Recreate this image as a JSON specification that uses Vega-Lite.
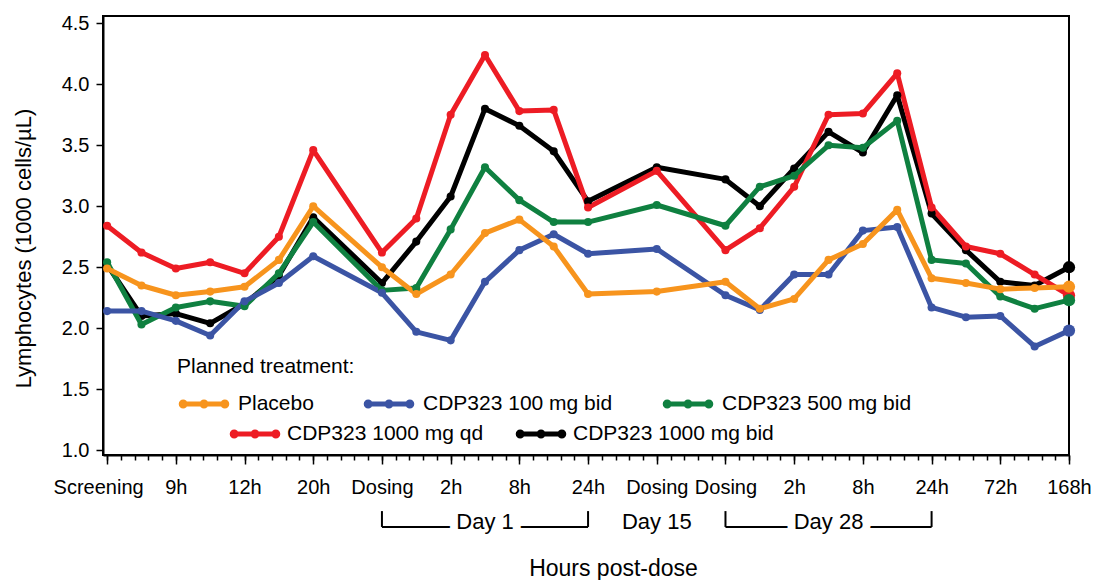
{
  "$schema": "https://vega.github.io/schema/vega-lite/v6.json",
  "width": 966,
  "height": 439,
  "autosize": {"type": "none"},
  "padding": {"left": 103, "top": 16, "right": 25, "bottom": 125},
  "background": "white",
  "config": {
    "view": {"stroke": "black", "strokeWidth": 2},
    "font": "Liberation Sans",
    "axis": {"domainColor": "black", "domainWidth": 2, "tickColor": "black", "tickWidth": 1.5, "labelColor": "black", "titleColor": "black", "labelFont": "Liberation Sans", "titleFont": "Liberation Sans", "titleFontWeight": "normal", "grid": false, "labelOverlap": false},
    "legend": {"labelFont": "Liberation Sans", "titleFont": "Liberation Sans", "labelColor": "black", "titleColor": "black", "labelLimit": 400}
  },
  "datasets": {
    "lymph": [
      {"time":0,"treatment":"CDP323 1000 mg bid","value":2.52},{"time":1,"treatment":"CDP323 1000 mg bid","value":2.10},{"time":2,"treatment":"CDP323 1000 mg bid","value":2.12},{"time":3,"treatment":"CDP323 1000 mg bid","value":2.04},{"time":4,"treatment":"CDP323 1000 mg bid","value":2.20},{"time":5,"treatment":"CDP323 1000 mg bid","value":2.43},{"time":6,"treatment":"CDP323 1000 mg bid","value":2.91},{"time":8,"treatment":"CDP323 1000 mg bid","value":2.37},{"time":9,"treatment":"CDP323 1000 mg bid","value":2.71},{"time":10,"treatment":"CDP323 1000 mg bid","value":3.08},{"time":11,"treatment":"CDP323 1000 mg bid","value":3.80},{"time":12,"treatment":"CDP323 1000 mg bid","value":3.66},{"time":13,"treatment":"CDP323 1000 mg bid","value":3.45},{"time":14,"treatment":"CDP323 1000 mg bid","value":3.04},{"time":16,"treatment":"CDP323 1000 mg bid","value":3.32},{"time":18,"treatment":"CDP323 1000 mg bid","value":3.22},{"time":19,"treatment":"CDP323 1000 mg bid","value":3.00},{"time":20,"treatment":"CDP323 1000 mg bid","value":3.31},{"time":21,"treatment":"CDP323 1000 mg bid","value":3.61},{"time":22,"treatment":"CDP323 1000 mg bid","value":3.44},{"time":23,"treatment":"CDP323 1000 mg bid","value":3.91},{"time":24,"treatment":"CDP323 1000 mg bid","value":2.94},{"time":25,"treatment":"CDP323 1000 mg bid","value":2.64},{"time":26,"treatment":"CDP323 1000 mg bid","value":2.38},{"time":27,"treatment":"CDP323 1000 mg bid","value":2.35},{"time":28,"treatment":"CDP323 1000 mg bid","value":2.50},
      {"time":0,"treatment":"CDP323 1000 mg qd","value":2.84},{"time":1,"treatment":"CDP323 1000 mg qd","value":2.62},{"time":2,"treatment":"CDP323 1000 mg qd","value":2.49},{"time":3,"treatment":"CDP323 1000 mg qd","value":2.54},{"time":4,"treatment":"CDP323 1000 mg qd","value":2.45},{"time":5,"treatment":"CDP323 1000 mg qd","value":2.75},{"time":6,"treatment":"CDP323 1000 mg qd","value":3.46},{"time":8,"treatment":"CDP323 1000 mg qd","value":2.62},{"time":9,"treatment":"CDP323 1000 mg qd","value":2.90},{"time":10,"treatment":"CDP323 1000 mg qd","value":3.75},{"time":11,"treatment":"CDP323 1000 mg qd","value":4.24},{"time":12,"treatment":"CDP323 1000 mg qd","value":3.78},{"time":13,"treatment":"CDP323 1000 mg qd","value":3.79},{"time":14,"treatment":"CDP323 1000 mg qd","value":2.99},{"time":16,"treatment":"CDP323 1000 mg qd","value":3.29},{"time":18,"treatment":"CDP323 1000 mg qd","value":2.64},{"time":19,"treatment":"CDP323 1000 mg qd","value":2.82},{"time":20,"treatment":"CDP323 1000 mg qd","value":3.16},{"time":21,"treatment":"CDP323 1000 mg qd","value":3.75},{"time":22,"treatment":"CDP323 1000 mg qd","value":3.76},{"time":23,"treatment":"CDP323 1000 mg qd","value":4.09},{"time":24,"treatment":"CDP323 1000 mg qd","value":2.99},{"time":25,"treatment":"CDP323 1000 mg qd","value":2.67},{"time":26,"treatment":"CDP323 1000 mg qd","value":2.61},{"time":27,"treatment":"CDP323 1000 mg qd","value":2.44},{"time":28,"treatment":"CDP323 1000 mg qd","value":2.27},
      {"time":0,"treatment":"CDP323 500 mg bid","value":2.54},{"time":1,"treatment":"CDP323 500 mg bid","value":2.03},{"time":2,"treatment":"CDP323 500 mg bid","value":2.17},{"time":3,"treatment":"CDP323 500 mg bid","value":2.22},{"time":4,"treatment":"CDP323 500 mg bid","value":2.18},{"time":5,"treatment":"CDP323 500 mg bid","value":2.45},{"time":6,"treatment":"CDP323 500 mg bid","value":2.87},{"time":8,"treatment":"CDP323 500 mg bid","value":2.31},{"time":9,"treatment":"CDP323 500 mg bid","value":2.33},{"time":10,"treatment":"CDP323 500 mg bid","value":2.81},{"time":11,"treatment":"CDP323 500 mg bid","value":3.32},{"time":12,"treatment":"CDP323 500 mg bid","value":3.05},{"time":13,"treatment":"CDP323 500 mg bid","value":2.87},{"time":14,"treatment":"CDP323 500 mg bid","value":2.87},{"time":16,"treatment":"CDP323 500 mg bid","value":3.01},{"time":18,"treatment":"CDP323 500 mg bid","value":2.84},{"time":19,"treatment":"CDP323 500 mg bid","value":3.16},{"time":20,"treatment":"CDP323 500 mg bid","value":3.25},{"time":21,"treatment":"CDP323 500 mg bid","value":3.50},{"time":22,"treatment":"CDP323 500 mg bid","value":3.48},{"time":23,"treatment":"CDP323 500 mg bid","value":3.70},{"time":24,"treatment":"CDP323 500 mg bid","value":2.56},{"time":25,"treatment":"CDP323 500 mg bid","value":2.53},{"time":26,"treatment":"CDP323 500 mg bid","value":2.26},{"time":27,"treatment":"CDP323 500 mg bid","value":2.16},{"time":28,"treatment":"CDP323 500 mg bid","value":2.23},
      {"time":0,"treatment":"CDP323 100 mg bid","value":2.14},{"time":1,"treatment":"CDP323 100 mg bid","value":2.14},{"time":2,"treatment":"CDP323 100 mg bid","value":2.06},{"time":3,"treatment":"CDP323 100 mg bid","value":1.94},{"time":4,"treatment":"CDP323 100 mg bid","value":2.22},{"time":5,"treatment":"CDP323 100 mg bid","value":2.37},{"time":6,"treatment":"CDP323 100 mg bid","value":2.59},{"time":8,"treatment":"CDP323 100 mg bid","value":2.29},{"time":9,"treatment":"CDP323 100 mg bid","value":1.97},{"time":10,"treatment":"CDP323 100 mg bid","value":1.90},{"time":11,"treatment":"CDP323 100 mg bid","value":2.38},{"time":12,"treatment":"CDP323 100 mg bid","value":2.64},{"time":13,"treatment":"CDP323 100 mg bid","value":2.77},{"time":14,"treatment":"CDP323 100 mg bid","value":2.61},{"time":16,"treatment":"CDP323 100 mg bid","value":2.65},{"time":18,"treatment":"CDP323 100 mg bid","value":2.27},{"time":19,"treatment":"CDP323 100 mg bid","value":2.15},{"time":20,"treatment":"CDP323 100 mg bid","value":2.44},{"time":21,"treatment":"CDP323 100 mg bid","value":2.44},{"time":22,"treatment":"CDP323 100 mg bid","value":2.80},{"time":23,"treatment":"CDP323 100 mg bid","value":2.83},{"time":24,"treatment":"CDP323 100 mg bid","value":2.17},{"time":25,"treatment":"CDP323 100 mg bid","value":2.09},{"time":26,"treatment":"CDP323 100 mg bid","value":2.10},{"time":27,"treatment":"CDP323 100 mg bid","value":1.85},{"time":28,"treatment":"CDP323 100 mg bid","value":1.98},
      {"time":0,"treatment":"Placebo","value":2.49},{"time":1,"treatment":"Placebo","value":2.35},{"time":2,"treatment":"Placebo","value":2.27},{"time":3,"treatment":"Placebo","value":2.30},{"time":4,"treatment":"Placebo","value":2.34},{"time":5,"treatment":"Placebo","value":2.56},{"time":6,"treatment":"Placebo","value":3.00},{"time":8,"treatment":"Placebo","value":2.50},{"time":9,"treatment":"Placebo","value":2.28},{"time":10,"treatment":"Placebo","value":2.44},{"time":11,"treatment":"Placebo","value":2.78},{"time":12,"treatment":"Placebo","value":2.89},{"time":13,"treatment":"Placebo","value":2.67},{"time":14,"treatment":"Placebo","value":2.28},{"time":16,"treatment":"Placebo","value":2.30},{"time":18,"treatment":"Placebo","value":2.38},{"time":19,"treatment":"Placebo","value":2.16},{"time":20,"treatment":"Placebo","value":2.24},{"time":21,"treatment":"Placebo","value":2.56},{"time":22,"treatment":"Placebo","value":2.69},{"time":23,"treatment":"Placebo","value":2.97},{"time":24,"treatment":"Placebo","value":2.41},{"time":25,"treatment":"Placebo","value":2.37},{"time":26,"treatment":"Placebo","value":2.32},{"time":27,"treatment":"Placebo","value":2.33},{"time":28,"treatment":"Placebo","value":2.34}
    ],
    "periods": [
      {"period": "Day 1", "from": 8, "to": 14, "mid": 11},
      {"period": "Day 15", "mid": 16},
      {"period": "Day 28", "from": 18, "to": 24, "mid": 21}
    ]
  },
  "layer": [
    {
      "data": {"name": "lymph"},
      "transform": [{"filter": {"field": "treatment", "oneOf": ["CDP323 1000 mg qd", "CDP323 1000 mg bid"]}}],
      "mark": {"type": "line", "strokeWidth": 5, "strokeJoin": "round", "point": {"filled": true, "size": 65}},
      "encoding": {
        "x": {"field": "time", "type": "quantitative", "scale": {"domain": [-0.12, 28], "nice": false, "zero": false},
          "axis": {"orient": "bottom", "title": "Hours post-dose", "titleFontSize": 23, "titleX": 510, "titleY": 120, "titleBaseline": "alphabetic",
            "values": [0,2,4,6,8,10,12,14,16,18,20,22,24,26,28],
            "labelExpr": "['Screening','9h','12h','20h','Dosing','2h','8h','24h','Dosing','Dosing','2h','8h','24h','72h','168h'][datum.value / 2]",
            "labelOffset": {"condition": {"test": "datum.value === 0", "value": -9}, "value": 0},
            "tickSize": 9, "labelFontSize": 20, "labelPadding": 13, "labelOverlap": false, "labelFlush": false}},
        "y": {"field": "value", "type": "quantitative", "scale": {"domain": [0.96, 4.56], "nice": false, "zero": false},
          "axis": {"title": "Lymphocytes (1000 cells/µL)", "titleFontSize": 22, "titleX": -80, "titleY": 232, "titleBaseline": "middle", "titleAlign": "center",
            "values": [1,1.25,1.5,1.75,2,2.25,2.5,2.75,3,3.25,3.5,3.75,4,4.25,4.5],
            "labelExpr": "(datum.value * 2) % 1 === 0 ? format(datum.value, '.1f') : ''",
            "tickSize": {"condition": {"test": "(datum.value * 2) % 1 === 0", "value": 7}, "value": 4},
            "labelFontSize": 20, "labelPadding": 7, "labelOverlap": false}},
        "color": {"field": "treatment", "type": "nominal",
          "scale": {"domain": ["CDP323 1000 mg qd", "CDP323 1000 mg bid"], "range": ["#ED1C24", "#000000"]},
          "legend": {"orient": "none", "legendX": 125, "legendY": 391, "direction": "horizontal", "title": null, "padding": 0,
            "labelFontSize": 21, "labelOffset": 5, "columnPadding": 22, "labelLimit": 400,
            "symbolType": "M-1,0L1,0M-0.93,0a0.08,0.08 0 1,0 0.16,0a0.08,0.08 0 1,0 -0.16,0M-0.08,0a0.08,0.08 0 1,0 0.16,0a0.08,0.08 0 1,0 -0.16,0M0.77,0a0.08,0.08 0 1,0 0.16,0a0.08,0.08 0 1,0 -0.16,0",
            "symbolSize": 2400, "symbolStrokeWidth": 5}}
      }
    },
    {
      "data": {"name": "lymph"},
      "transform": [{"filter": {"field": "treatment", "oneOf": ["CDP323 500 mg bid", "CDP323 100 mg bid", "Placebo"]}}],
      "mark": {"type": "line", "strokeWidth": 5, "strokeJoin": "round", "point": {"filled": true, "size": 65}},
      "encoding": {
        "x": {"field": "time", "type": "quantitative", "axis": null},
        "y": {"field": "value", "type": "quantitative"},
        "color": {"field": "treatment", "type": "nominal",
          "scale": {"domain": ["Placebo", "CDP323 100 mg bid", "CDP323 500 mg bid"], "range": ["#F7941D", "#3B54A4", "#0F8040"]},
          "legend": {"orient": "none", "legendX": 74, "legendY": 340, "direction": "horizontal", "title": "Planned treatment:", "titleFontSize": 21, "titleFontWeight": "normal", "titlePadding": 0, "padding": 0,
            "labelFontSize": 21, "labelOffset": 7, "columnPadding": 40, "labelLimit": 400,
            "symbolType": "M-1,0L1,0M-0.93,0a0.08,0.08 0 1,0 0.16,0a0.08,0.08 0 1,0 -0.16,0M-0.08,0a0.08,0.08 0 1,0 0.16,0a0.08,0.08 0 1,0 -0.16,0M0.77,0a0.08,0.08 0 1,0 0.16,0a0.08,0.08 0 1,0 -0.16,0",
            "symbolSize": 2400, "symbolStrokeWidth": 5}}
      }
    },
    {
      "data": {"name": "lymph"},
      "transform": [{"filter": "datum.time === 28"}],
      "mark": {"type": "circle", "size": 150, "opacity": 1},
      "encoding": {
        "x": {"field": "time", "type": "quantitative", "axis": null},
        "y": {"field": "value", "type": "quantitative"},
        "color": {"field": "treatment", "type": "nominal", "legend": null,
          "scale": {"domain": ["Placebo", "CDP323 100 mg bid", "CDP323 500 mg bid", "CDP323 1000 mg qd", "CDP323 1000 mg bid"], "range": ["#F7941D", "#3B54A4", "#0F8040", "#ED1C24", "#000000"]}}
      }
    },
    {
      "data": {"name": "periods"},
      "transform": [{"filter": "isValid(datum.from)"}],
      "mark": {"type": "rule", "color": "black", "strokeWidth": 2},
      "encoding": {"x": {"field": "from", "type": "quantitative",
          "axis": {"orient": "bottom", "title": null, "labels": false, "domain": false, "tickSize": 5, "tickWidth": 1.5,
            "values": [0,0.4,0.8,1.2,1.6,2,2.4,2.8,3.2,3.6,4,4.4,4.8,5.2,5.6,6,6.4,6.8,7.2,7.6,8,8.4,8.8,9.2,9.6,10,10.4,10.8,11.2,11.6,12,12.4,12.8,13.2,13.6,14,14.4,14.8,15.2,15.6,16,16.4,16.8,17.2,17.6,18,18.4,18.8,19.2,19.6,20,20.4,20.8,21.2,21.6,22,22.4,22.8,23.2,23.6,24,24.4,24.8,25.2,25.6,26,26.4,26.8,27.2,27.6,28]}},
        "x2": {"field": "to"}, "y": {"datum": 0.37}}
    },
    {
      "data": {"name": "periods"},
      "transform": [{"filter": "isValid(datum.from)"}],
      "mark": {"type": "rule", "color": "black", "strokeWidth": 2},
      "encoding": {"x": {"field": "from", "type": "quantitative", "axis": null}, "y": {"datum": 0.37}, "y2": {"datum": 0.5}}
    },
    {
      "data": {"name": "periods"},
      "transform": [{"filter": "isValid(datum.to)"}],
      "mark": {"type": "rule", "color": "black", "strokeWidth": 2},
      "encoding": {"x": {"field": "to", "type": "quantitative", "axis": null}, "y": {"datum": 0.37}, "y2": {"datum": 0.5}}
    },
    {
      "data": {"name": "periods"},
      "mark": {"type": "text", "fontSize": 22, "baseline": "alphabetic", "align": "center", "fill": "white", "stroke": "white", "strokeWidth": 16},
      "encoding": {"x": {"field": "mid", "type": "quantitative", "axis": null}, "y": {"datum": 0.35}, "text": {"field": "period"}}
    },
    {
      "data": {"name": "periods"},
      "mark": {"type": "text", "fontSize": 22, "baseline": "alphabetic", "align": "center", "color": "black"},
      "encoding": {"x": {"field": "mid", "type": "quantitative", "axis": null}, "y": {"datum": 0.35}, "text": {"field": "period"}}
    },
    {
      "mark": {"type": "rule", "color": "black", "strokeWidth": 1.5},
      "encoding": {"x": {"datum": 2.03, "axis": null}, "x2": {"datum": 7.27}, "y": {"datum": 1.575}}
    }
  ],
  "resolve": {"scale": {"color": "independent"}, "axis": {"x": "independent"}}
}
